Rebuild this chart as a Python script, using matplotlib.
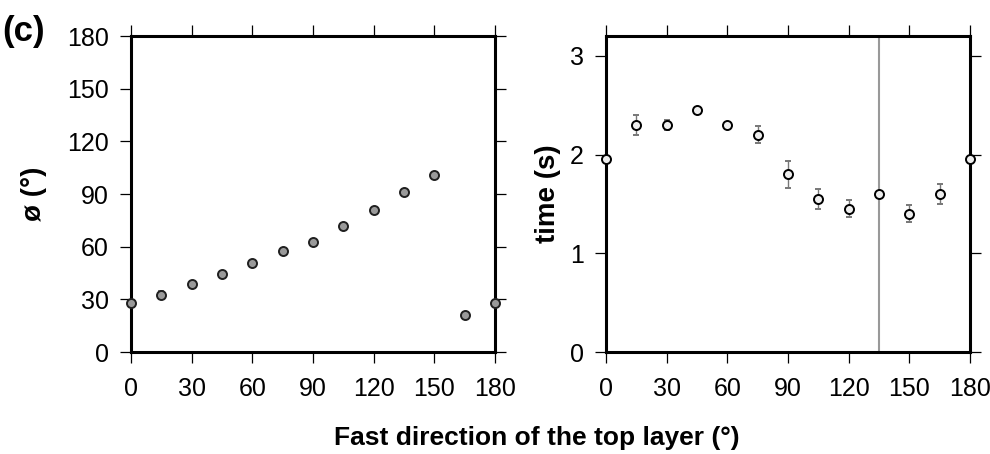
import matplotlib
matplotlib.use("Agg")
import matplotlib.pyplot as plt

plt.rcParams['font.family'] = ['Liberation Sans', 'DejaVu Sans']

# Data
fast_dir = [0, 15, 30, 45, 60, 75, 90, 105, 120, 135, 150, 165, 180]
phi_vals = [28, 32.5, 38.5, 44.5, 50.5, 57.5, 62.5, 71.5, 81, 91, 101, 21, 28]
phi_err = [1, 2.5, 1.5, 1, 1, 1, 1, 1, 1, 1, 1, 1, 1]
time_vals = [1.95, 2.30, 2.30, 2.45, 2.30, 2.20, 1.80, 1.55, 1.45, 1.60, 1.40, 1.60, 1.95]
time_err = [0.0, 0.10, 0.05, 0.0, 0.0, 0.085, 0.135, 0.10, 0.085, 0.0, 0.085, 0.10, 0.0]
vline_x = 135
xticks = [0, 30, 60, 90, 120, 150, 180]
phi_ticks = [0, 30, 60, 90, 120, 150, 180]
time_ticks = [0, 1, 2, 3]

fig = plt.figure(figsize=(9.9, 4.54), dpi=100)
ax1 = fig.add_axes([131/990, 102/454, 364/990, 316/454])
ax2 = fig.add_axes([606/990, 102/454, 364/990, 316/454])

def style(ax):
    for s in ax.spines.values():
        s.set_linewidth(2.2)
    ax.tick_params(direction='out', length=8, width=0.9, top=True, right=True,
                   labeltop=False, labelright=False, labelsize=18, color='black')
    ax.tick_params(axis='x', pad=10)
    ax.tick_params(axis='y', pad=8)

ax1.errorbar(fast_dir, phi_vals, yerr=phi_err, fmt='o', ms=6.5, mfc='#9a9a9a',
             mec='#202020', mew=1.4, ecolor='#777777', elinewidth=1, capsize=2,
             clip_on=False, zorder=5)
ax1.set_xlim(0, 180)
ax1.set_ylim(0, 180)
ax1.set_xticks(xticks)
ax1.set_yticks(phi_ticks)
ax1.set_ylabel('ø (°)', fontsize=20, fontweight='bold', labelpad=14)
style(ax1)

ax2.axvline(vline_x, color='#999999', lw=1.5, zorder=1)
ax2.errorbar(fast_dir, time_vals, yerr=time_err, fmt='o', ms=6.5, mfc='#eeeeee',
             mec='black', mew=1.4, ecolor='#777777', elinewidth=1, capsize=2,
             clip_on=False, zorder=5)
ax2.set_xlim(0, 180)
ax2.set_ylim(0, 3.2)
ax2.set_xticks(xticks)
ax2.set_yticks(time_ticks)
ax2.set_ylabel('time (s)', fontsize=20, fontweight='bold', labelpad=6)
style(ax2)

fig.text(537/990, 1 - 438/454, 'Fast direction of the top layer (°)', fontsize=19,
         fontweight='bold', ha='center', va='center')
fig.text(2/990, 1 - 31/454, '(c)', fontsize=25, fontweight='bold', ha='left', va='center')

fig.savefig('out.png', dpi=100)
